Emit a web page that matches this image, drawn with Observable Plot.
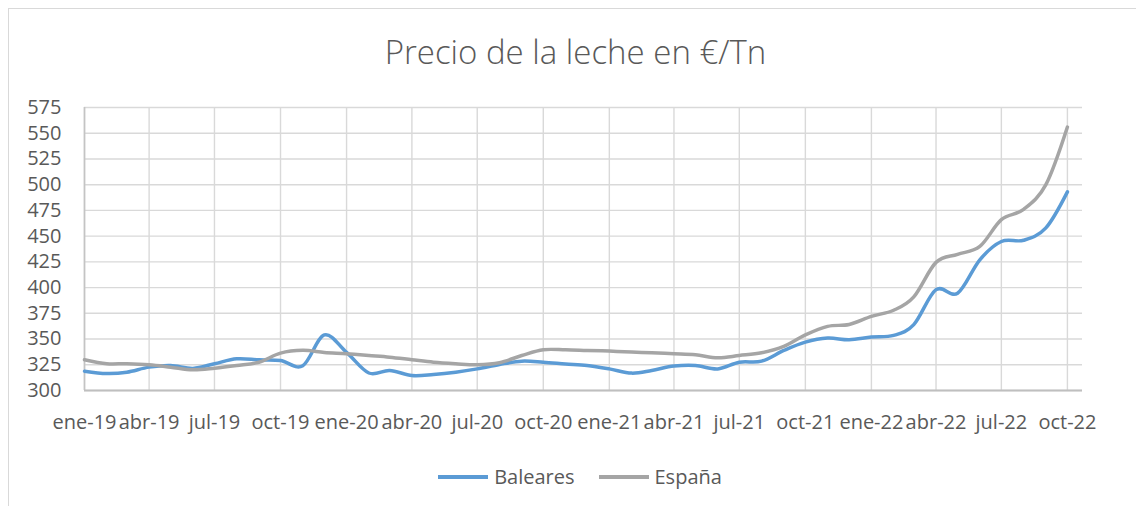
<!DOCTYPE html>
<html>
<head>
<meta charset="utf-8">
<script src="https://cdn.jsdelivr.net/npm/d3@7"></script>
<script src="https://cdn.jsdelivr.net/npm/@observablehq/plot@0.6"></script>
<style>
  body { margin: 0; background: #fff; font-family: "Open Sans", sans-serif; }
  #frame { position: relative; width: 1136px; height: 506px; overflow: hidden; background: #fff; }
  #border { position: absolute; left: 8px; top: 8px; width: 1300px; height: 700px;
            border-left: 1.5px solid #d9d9d9; border-top: 1.5px solid #d9d9d9; }
  #title { position: absolute; top: 32px; left: 0; width: 1151px; text-align: center;
           font-size: 33px; line-height: 40px; color: #595959; font-weight: 300; }
  #chart { position: absolute; left: 0; top: 0; }
  #legend { position: absolute; top: 463px; left: 0; width: 1160px; display: flex;
            justify-content: center; align-items: center; font-size: 20px; color: #595959; line-height: 28px; }
  .item { display: flex; align-items: center; margin: 0 12px; }
  .swatch { width: 50px; height: 3.5px; margin-right: 6px; }
</style>
</head>
<body>
<div id="frame">
  <div id="border"></div>
  <div id="chart"></div>
  <div id="title">Precio de la leche en €/Tn</div>
  <div id="legend"></div>
</div>
<script>
// Months: ene-19 .. oct-22 (46 monthly observations)
const startMonth = "2019-01-01";
const monthCount = 46;

const baleares = [
  318.8, 316.5, 317.8, 322.7, 324.3, 321.5, 326.0, 330.8, 329.8, 329.2,
  324.0, 354.0, 337.0, 317.0, 319.5, 314.6, 315.6, 317.8, 321.0, 325.3,
  328.5, 327.5, 325.8, 324.3, 321.0, 316.9, 319.5, 323.7, 324.3, 321.0,
  327.5, 328.5, 338.9, 347.0, 350.9, 349.3, 351.9, 353.5, 364.0, 398.0,
  394.5, 427.0, 444.8, 446.0, 458.0, 493.0
];
const espana = [
  329.9, 326.0, 326.0, 325.0, 322.7, 320.1, 321.7, 324.3, 327.5, 336.3,
  339.0, 337.0, 335.7, 334.0, 332.4, 329.9, 327.5, 326.0, 325.0, 327.0,
  334.0, 339.6, 339.5, 338.9, 338.3, 337.3, 336.6, 335.7, 334.7, 331.8,
  334.0, 336.6, 342.8, 354.0, 362.3, 364.2, 372.0, 378.0, 391.0, 424.5,
  432.3, 440.0, 466.0, 476.0, 500.0, 556.0
];
const seriesNames = ["Baleares", "España"];
const seriesColors = ["#5b9bd5", "#a5a5a5"];

const xTickLabels = ["ene-19","abr-19","jul-19","oct-19","ene-20","abr-20","jul-20","oct-20",
                     "ene-21","abr-21","jul-21","oct-21","ene-22","abr-22","jul-22","oct-22"];
const yTicks = [300, 325, 350, 375, 400, 425, 450, 475, 500, 525, 550, 575];

const start = new Date(startMonth);
const months = d3.utcMonth.range(start, d3.utcMonth.offset(start, monthCount));
const xTickDates = xTickLabels.map((_, i) => d3.utcMonth.offset(start, i * 3));
const xEnd = d3.utcDay.offset(months[months.length - 1], 21);

const rows = [];
months.forEach((m, i) => {
  rows.push({date: m, value: baleares[i], serie: seriesNames[0]});
  rows.push({date: m, value: espana[i], serie: seriesNames[1]});
});

const fmtX = d => {
  const k = xTickDates.findIndex(t => +t === +d);
  return k >= 0 ? xTickLabels[k] : "";
};

const chart = Plot.plot({
  width: 1136,
  height: 445,
  marginLeft: 84,
  marginRight: 54,
  marginTop: 107,
  marginBottom: 55,
  style: {fontFamily: "'Open Sans', sans-serif", fontSize: "20px", color: "#595959", background: "transparent", overflow: "visible"},
  x: {type: "utc", domain: [start, xEnd]},
  y: {domain: [300, 575]},
  color: {domain: seriesNames, range: seriesColors},
  marks: [
    Plot.gridY(yTicks, {stroke: "#d9d9d9", strokeOpacity: 1, strokeWidth: 1.4}),
    Plot.gridX(xTickDates, {stroke: "#d9d9d9", strokeOpacity: 1, strokeWidth: 1.4}),
    Plot.ruleX([start], {stroke: "#c4c4c4", strokeWidth: 1.6}),
    Plot.ruleY([300], {stroke: "#bfbfbf", strokeWidth: 2}),
    Plot.axisY(yTicks, {tickSize: 0, tickPadding: 23, fontSize: 20, fill: "#595959", label: null}),
    Plot.axisX(xTickDates, {tickSize: 0, tickPadding: 24, fontSize: 20, fill: "#595959", label: null, tickFormat: fmtX}),
    Plot.line(rows, {x: "date", y: "value", z: "serie", stroke: "serie", strokeWidth: 3.5,
                     curve: "cardinal", tension: 0, strokeLinecap: "round", strokeLinejoin: "round"})
  ]
});
document.getElementById("chart").appendChild(chart);

const legend = document.getElementById("legend");
seriesNames.forEach((name, i) => {
  const item = document.createElement("div");
  item.className = "item";
  const sw = document.createElement("span");
  sw.className = "swatch";
  sw.style.background = seriesColors[i];
  const tx = document.createElement("span");
  tx.textContent = name;
  item.appendChild(sw);
  item.appendChild(tx);
  legend.appendChild(item);
});
</script>
</body>
</html>
